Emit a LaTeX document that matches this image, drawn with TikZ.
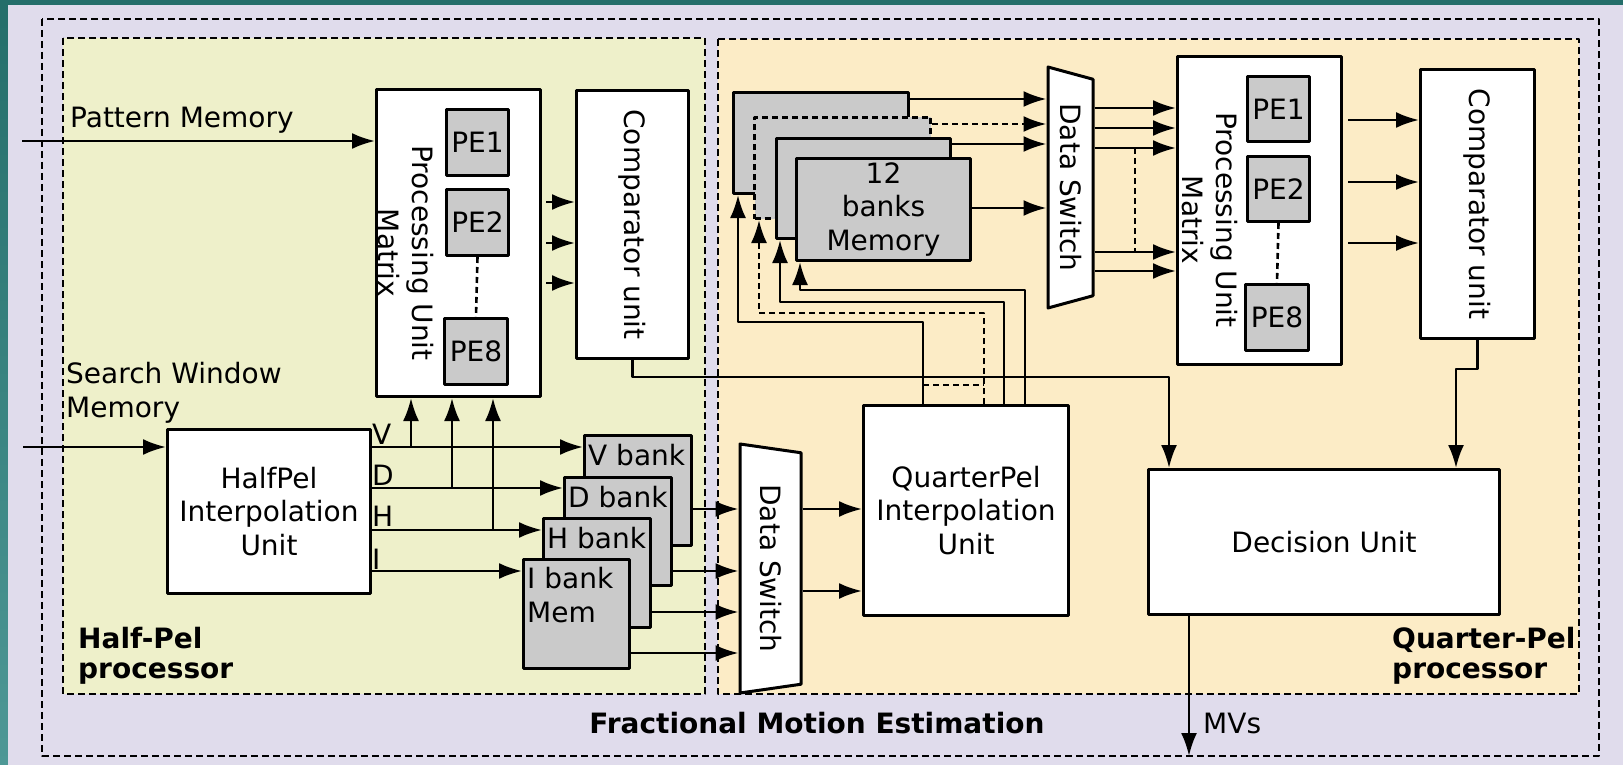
\documentclass[tikz,border=0pt]{standalone}
\usepackage{fontspec}
\setmainfont{DejaVu Sans}
\usetikzlibrary{arrows.meta,shapes.geometric}
\definecolor{frame}{RGB}{36,110,106}
\definecolor{framelight}{RGB}{78,152,150}
\definecolor{outerbg}{RGB}{224,220,236}
\definecolor{halfbg}{RGB}{238,240,202}
\definecolor{quarterbg}{RGB}{252,236,198}
\definecolor{bankgray}{RGB}{202,202,202}
\tikzset{
  unit/.style={draw,fill=white,line width=3pt,inner sep=0pt,anchor=north west,align=center},
  bank/.style={unit,fill=bankgray},
  banklabel/.style={anchor=base west,inner sep=0pt,xshift=5pt,yshift=-31pt,align=left},
  wire/.style={line width=2.6pt},
  wdash/.style={wire,dash pattern=on 6pt off 4pt},
  region/.style={line width=2pt,dash pattern=on 7pt off 4pt},
  switch/.style={draw,fill=white,line width=3pt,shape=trapezium,rotate=-90,inner sep=0pt,trapezium stretches body},
  title/.style={font=\fontsize{28}{30}\selectfont\bfseries},
}
\begin{document}
\begin{tikzpicture}[x=1pt,y=-1pt,line join=round,>={Latex[length=23pt,width=16pt]},font=\fontsize{28}{33.5}\selectfont]
  \useasboundingbox (0,0) rectangle (1623,765);
  \fill[frame] (0,0) rectangle (1623,765);
  \shade[top color=frame,bottom color=framelight] (0,0) rectangle (8,765);
  \fill[outerbg] (8,5) rectangle (1623,765);
  \draw[region] (42,19) rectangle (1599,756);
  \draw[region,fill=halfbg] (63,38) rectangle (705,694);
  \draw[region,fill=quarterbg] (718,39) rectangle (1579,694);

  % half-pel processor
  \node[unit,minimum width=164pt,minimum height=307pt] (pumL) at (375,88) {};
  \node[bank,minimum width=62pt,minimum height=66pt] (pe1L) at (445,108) {PE1};
  \node[bank,minimum width=62pt,minimum height=66pt] (pe2L) at (445,188) {PE2};
  \node[bank,minimum width=63pt,minimum height=66pt] (pe8L) at (443,317) {PE8};
  \node[rotate=-90,align=center] (pumLtxt) at (406,253) {Processing Unit\\Matrix};
  \node[unit,minimum width=112pt,minimum height=268pt] (compL) at (575,89) {};
  \node[rotate=-90] (compLtxt) at (compL.center) {Comparator unit};
  \node[unit,minimum width=203pt,minimum height=164pt] (hpi) at (166,428) {HalfPel\\Interpolation\\Unit};
  \node[bank,minimum width=107pt,minimum height=110pt,label={[banklabel]north west:V bank}] (vbank) at (583,434) {};
  \node[bank,minimum width=107pt,minimum height=108pt,label={[banklabel]north west:D bank}] (dbank) at (563,476) {};
  \node[bank,minimum width=107pt,minimum height=109pt,label={[banklabel]north west:H bank}] (hbank) at (542,517) {};
  \node[bank,minimum width=106pt,minimum height=109pt,label={[banklabel,yshift=-33pt]north west:I bank\\Mem}] (ibank) at (522,558) {};

  % quarter-pel processor
  \node[switch,trapezium left angle=68,trapezium right angle=68,minimum width=249pt,minimum height=61pt] (dslo) at (770.5,568.5) {Data Switch};
  \node[unit,minimum width=205pt,minimum height=210pt] (qpi) at (862,404) {QuarterPel\\Interpolation\\Unit};
  \node[bank,minimum width=175pt,minimum height=101pt] (mem1) at (732,91) {};
  \node[bank,minimum width=176pt,minimum height=101pt,dash pattern=on 6pt off 4pt] (mem2) at (753,116) {};
  \node[bank,minimum width=174pt,minimum height=100pt] (mem3) at (775,137) {};
  \node[bank,minimum width=174pt,minimum height=102pt] (mem4) at (795,157) {12\\banks\\Memory};
  \node[switch,trapezium left angle=60.5,trapezium right angle=60.5,minimum width=241pt,minimum height=45pt] (dsup) at (1070.5,187.5) {Data Switch};
  \node[unit,minimum width=164pt,minimum height=308pt] (pumR) at (1176,55) {};
  \node[bank,minimum width=62pt,minimum height=65pt] (pe1R) at (1246,75) {PE1};
  \node[bank,minimum width=62pt,minimum height=65pt] (pe2R) at (1246,155) {PE2};
  \node[bank,minimum width=63pt,minimum height=66pt] (pe8R) at (1244,283) {PE8};
  \node[rotate=-90,align=center] (pumRtxt) at (1210,220) {Processing Unit\\Matrix};
  \node[unit,minimum width=114pt,minimum height=269pt] (compR) at (1419,68) {};
  \node[rotate=-90] (compRtxt) at (compR.center) {Comparator unit};
  \node[unit,minimum width=351pt,minimum height=145pt] (dec) at (1147,468) {Decision Unit};

  % texts
  \node[anchor=base west,inner sep=0pt] (pmlab) at (70,128) {Pattern Memory};
  \node[anchor=base west,inner sep=0pt,align=left] (swlab) at (66,417) {Search Window\\Memory};
  \foreach \l/\y in {V/434,D/475,H/516,I/559}
    \node[anchor=west,inner sep=0pt] (lab\l) at (372,\y) {\l};
  \node[title,anchor=base west,inner sep=0pt,align=left] (hplab) at (78,678) {Half-Pel\\processor};
  \node[title,anchor=base west,inner sep=0pt,align=left] (qplab) at (1392,678) {Quarter-Pel\\processor};
  \node[title,anchor=base,inner sep=0pt] (fmelab) at (817,733) {Fractional Motion Estimation};
  \node[anchor=base west,inner sep=0pt] (mvs) at (1203,733) {MVs};

  % connectors
  \coordinate (pmin) at (22,141);
  \coordinate (swin) at (23,447);
  \coordinate (mvout) at (1189,756);
  \draw[wire,->] (pmin) -- (pumL.west |- pmin);
  \draw[wire,->] (swin) -- (hpi.west |- swin);
  \foreach \b/\y in {vbank/447,dbank/488,hbank/530,ibank/571}
    \draw[wire,->] (hpi.east |- 0,\y) -- (\b.west |- 0,\y);
  \foreach \x/\y in {411/447,452/488,493/530}
    \draw[wire,->] (\x,\y) -- (pumL.south -| \x,0);
  \foreach \y in {202,243,283}
    \draw[wire,->,shorten <=4pt] (pumL.east |- 0,\y) -- (compL.west |- 0,\y);
  \draw[wdash] (pe2L.south) -- (pe8L.north);
  \foreach \b/\y in {vbank/509,dbank/571,hbank/612,ibank/653}
    \draw[wire,->] (\b.east |- 0,\y) -- (dslo.bottom side |- 0,\y);
  \foreach \y in {509,591}
    \draw[wire,->] (dslo.top side |- 0,\y) -- (qpi.west |- 0,\y);
  \draw[wire,->] (compL.south) |- (1169,377) -- (dec.north -| 1169,0);

  \draw[wire,->] (qpi.north -| 923,0) |- (738,322) -- (mem1.south -| 738,0);
  \draw[wdash,->] (qpi.north -| 984,0) |- (759,313) -- (mem2.south -| 759,0);
  \draw[wire,->] (qpi.north -| 1004,0) |- (780,302) -- (mem3.south -| 780,0);
  \draw[wire,->] (qpi.north -| 1025,0) |- (800,290) -- (mem4.south -| 800,0);
  \draw[wdash] (923,385) -- (984,385);
  \draw[wire,->] (mem1.east |- 0,99) -- (dsup.bottom side |- 0,99);
  \draw[wdash,->] (mem2.east |- 0,124) -- (dsup.bottom side |- 0,124);
  \draw[wire,->] (mem3.east |- 0,144) -- (dsup.bottom side |- 0,144);
  \draw[wire,->] (mem4.east |- 0,208) -- (dsup.bottom side |- 0,208);
  \foreach \y in {108,128,148,252,271}
    \draw[wire,->] (dsup.top side |- 0,\y) -- (pumR.west |- 0,\y);
  \draw[wdash] (1135,148) -- (1135,252);
  \draw[wdash] (pe2R.south) -- (pe8R.north);
  \foreach \y in {120,182,243}
    \draw[wire,->,shorten <=5pt] (pumR.east |- 0,\y) -- (compR.west |- 0,\y);
  \draw[wire,->] (compR.south) |- (1456,369) -- (dec.north -| 1456,0);
  \draw[wire,->] (dec.south -| mvout) -- (mvout);
\end{tikzpicture}
\end{document}
